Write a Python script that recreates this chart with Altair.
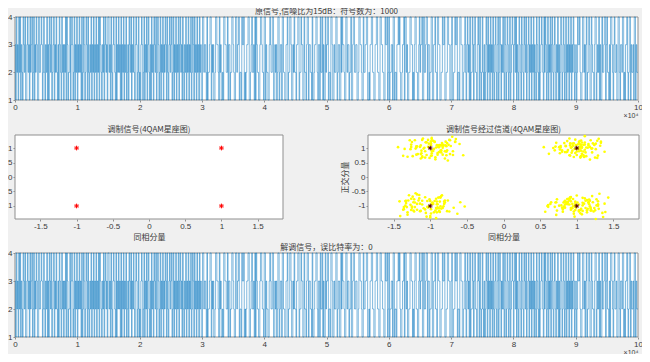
import altair as alt
import pandas as pd

# ---------------- texts ----------------
TITLE_TOP = "原信号,信噪比为15dB：符号数为：1000"
TITLE_MOD = "调制信号(4QAM星座图)"
TITLE_RX = "调制信号经过信道(4QAM星座图)"
TITLE_BOT = "解调信号，误比特率为：0"
XLABEL_IQ = "同相分量"
YLABEL_IQ = "正交分量"
X_EXP = "×10⁴"

# ---------------- data ----------------
SYMBOL_ROWS = [
    "31423142413214324113423142341241324311422343124213",
    "24131432412341324213143214231324143122413431241324",
    "13242314124312431421324132413241324143213241342314",
    "42314213432141324231413241324123143241324213431241",
    "21343124132413421314231432412431241324132431421342",
    "34124132413241342314213241324132412431423142314231",
    "14423321412234413231124433214231121443322413312244",
    "32114423341221433412123344112342231414322113443221",
    "44132211343224411323124412331442211334122443113242",
    "21334412243311422134413322141123344213314224131142",
    "33412214431132244123311424332114423312241134422331",
    "12443321142233441121334422113344221144332211433412",
    "41223314412213343421123341442311224433121344221134",
    "23341142234413312244113342214433112243341122443311",
    "34112243341221443311234213423141224313422134314212",
    "42131243142314231421342134124313242143124312412343",
    "13424132143214321432412341324132413214321412343214",
    "24312413241342134213241312431243124132413241324312",
    "31243342112442313412243114322134412324131142234413",
    "42213144321342231144213324412133421244132231441322",
]
TOTAL_SAMPLES = 100000

# constellation (symbol -> I/Q)
CONST_SYM = [1, 2, 3, 4]
CONST_I = [-1, 1, -1, 1]
CONST_Q = [1, 1, -1, -1]

# channel noise, in hundredths
NOISE_I = ("12 -25 3 18 -7 31 -14 0 22 -9 -33 5 16 -20 8 -2 27 -11 40 -18 6 -29 13 1 -5 19 -37 10 -13 24 "
           "-1 34 -22 7 -8 15 -26 2 29 -16 11 -4 21 -31 9 -12 36 -6 17 -23 4 -19 26 -3 14 -28 0 20 -10 45 "
           "-15 8 -35 23 -1 12 -21 30 -7 3 -17 18 -42 6 25 -9 11 -27 2 16 -13 38 -5 -24 9 14 -2 28 -18 5 "
           "-30 19 -11 1 33 -8 13 -20 7 -39 22 -4 10 -15 26 -26 4 -6 17 -32 12 0 21 -14 8 47 -19 3 -10 15 "
           "-23 29 -2 6 -36 18 -8 11 -13 24 -1 -28 9 32 -17 2 14 -21 5 -44 20 -6 27 -12 10 -3 16 -25 1 35 "
           "-9 7 -18 23 -30 13 -5 4 19 -15 -38 11 26 -2 8 -22 17 -7 41 -11 3 -27 14 0 -16 22 -34 6 -4 30 "
           "-20 9 12 -13 -1 25 -29 18 5 -9 15 -24 2 37 -14 10 -6 21 -40 7 -17 28 1 -11 13 -26 4 19 -3 -31 "
           "16 8 -19 24 -8 11 -35 3 31 -12 6 -22 20 -2 14 -5 -43 27 9 -16 1 18 -28 12 -10 23 -7 5 34 -21 "
           "-4 16 -33 10 29 -13 2 -18 7 22 -25 0 15 -9 39 -14 6 -30 11 -1 20 -23 8 -6 26 -17 3 13 -37 17 "
           "-3 24 -11 9 -27 1 32 -15 5 -8 19 -20 43 -12 4 14 -29 10 -2 21 -16 7 -36 28 -7 12 -19 2 17 -24 "
           "6 -10 25 -4 -32 15 9 -13 30 -21 1 11 -41 18 -6 22 -14 3 -26 8 35 -9 16 -18 0 13 -22 27 -5 4 "
           "-34 20 -11 10 -3 24 -28 7 -15 38 -8 14 -19 2 18 -31 6 -1 23 -12 9 -45 21 -7 29 -16 5 12 -24 -2 "
           "17 -10 33 -20 8 -5 19 -27 3 15 -13 26 -36 11 -4 1 22 -18 7 -9 31 -23 13 -6 16 -39 4 20 -14 10 "
           "-1 28 -25 2 -11 14 -30 24 -8 6 -17 36 -3 12 -21 9 18 -26 0 -12 25 -7 15 -33 4 21 -15 11 -2 30 -19")
NOISE_Q = ("-8 21 -15 4 30 -11 7 -24 13 -2 18 -33 9 -6 25 -17 2 -29 14 40 -10 5 -20 16 -1 27 -13 8 -36 11 "
           "-4 22 -19 3 31 -9 12 -26 6 -14 19 -3 34 -22 10 -7 -38 15 1 -16 24 -12 28 -5 9 -31 17 -2 20 -25 "
           "6 -42 13 -8 23 -15 2 32 -11 7 -21 -1 16 -28 11 26 -6 4 -18 37 -13 8 -24 1 15 -9 29 -34 12 -3 "
           "19 -16 5 -27 22 -7 10 44 -20 3 -12 17 -30 14 -4 25 -10 7 -23 0 18 -35 9 -14 28 -2 6 -19 33 -8 "
           "13 -26 2 21 -11 -40 16 4 -17 11 -5 27 -22 8 -1 35 -15 12 -30 3 19 -9 23 -18 6 -37 14 -6 10 -24 "
           "30 1 -13 17 -3 -28 20 7 -10 26 -20 9 -45 15 -7 2 22 -16 13 -32 5 -4 29 -12 18 -25 1 11 -19 39 "
           "-8 6 -14 24 -2 -33 12 8 -22 16 -10 3 31 -27 10 -5 20 -15 0 -39 17 7 -11 25 -21 4 14 -6 28 -30 "
           "9 -17 2 19 -13 41 -3 12 -24 6 -9 23 -36 15 -1 8 -20 27 -12 5 -26 11 18 -7 33 -18 3 -14 21 -4 "
           "-31 13 10 -23 1 24 -10 7 -29 16 -2 36 -15 9 -21 4 17 -8 26 -34 12 -5 2 20 -19 14 -11 30 -27 6 "
           "-3 -43 18 11 -16 23 -6 8 -25 1 15 -13 29 -9 4 -22 37 -17 10 -1 19 -32 7 25 -12 3 -20 13 -7 -28 "
           "22 5 -15 16 -4 34 -24 9 -10 27 -2 12 -35 18 -8 6 -18 21 -14 2 31 -26 11 -5 -40 15 7 -21 24 -3 "
           "17 -11 28 -29 4 -7 13 -16 38 -13 1 20 -23 8 -1 -30 26 10 -19 14 -9 3 22 -33 16 -6 5 -17 32 -14 "
           "9 -25 18 -2 11 -37 7 23 -10 1 -21 15 -4 29 -27 12 -12 6 19 -8 42 -18 2 -24 17 -3 25 -15 8 -31")

# axis limits and ticks
SIG_X_DOMAIN = [0, 100000]
SIG_Y_DOMAIN = [1, 4]
SIG_X_TICKS = [0, 10000, 20000, 30000, 40000, 50000, 60000, 70000, 80000, 90000, 100000]
SIG_Y_TICKS = [1, 2, 3, 4]
IQ_X_DOMAIN = [-1.85, 1.85]
IQ_Y_DOMAIN = [-1.45, 1.45]
IQ_X_TICKS = [-1.5, -1, -0.5, 0, 0.5, 1, 1.5]
IQ_Y_TICKS = [-1, -0.5, 0, 0.5, 1]

# ---------------- layout (pixels inside the plot group) ----------------
PAD = {"left": 7, "top": 9, "right": 3, "bottom": 17}
W, H = 624, 320
TOP_XR, TOP_YR = [0, 623], [83, 0]
MID_YR = [202, 118]
ML_XR = [0, 268]
MR_XR = [353, 624]
BOT_XR, BOT_YR = [0, 623], [320, 236]

# ---------------- build tables ----------------
symbols = [int(c) for c in "".join(SYMBOL_ROWS)]
step = TOTAL_SAMPLES / len(symbols)
sig = pd.DataFrame({
    "t": [i * step for i in range(len(symbols))] + [TOTAL_SAMPLES],
    "s": symbols + [symbols[-1]],
})

ni = [int(v) / 100 for v in NOISE_I.split()]
nq = [int(v) / 100 for v in NOISE_Q.split()]
n = min(len(ni), len(nq), len(symbols))
imap = dict(zip(CONST_SYM, CONST_I))
qmap = dict(zip(CONST_SYM, CONST_Q))
rx = pd.DataFrame({
    "i": [imap[symbols[k]] + ni[k] for k in range(n)],
    "q": [qmap[symbols[k]] + nq[k] for k in range(n)],
})
const = pd.DataFrame({"i": CONST_I, "q": CONST_Q})

FRAME = "#8f8f8f"
TXT = "#3a3a3a"
CJK = "Noto Sans CJK SC"
STAR = "M-1,0L1,0M0,-1L0,1M-0.7,-0.7L0.7,0.7M-0.7,0.7L0.7,-0.7"


def sc(domain, rng):
    return alt.Scale(domain=domain, range=rng, zero=False, nice=False)


def frame(xd, yd, xr, yr):
    df = pd.DataFrame({"x": [xd[0]], "x2": [xd[1]], "y": [yd[0]], "y2": [yd[1]]})
    return alt.Chart(df).mark_rect(fill="white", stroke=FRAME, strokeWidth=1).encode(
        x=alt.X("x:Q", scale=sc(xd, xr), axis=None),
        x2="x2:Q",
        y=alt.Y("y:Q", scale=sc(yd, yr), axis=None),
        y2="y2:Q",
    )


def title(text, xd, yd, xr, yr):
    df = pd.DataFrame({"x": [(xd[0] + xd[1]) / 2], "y": [yd[1]], "label": [text]})
    return alt.Chart(df).mark_text(font=CJK, fontSize=8, color=TXT, baseline="bottom", dy=-1).encode(
        x=alt.X("x:Q", scale=sc(xd, xr), axis=None),
        y=alt.Y("y:Q", scale=sc(yd, yr), axis=None),
        text="label:N",
    )


def sig_line(xr, yr, xoff):
    return alt.Chart(sig).mark_line(interpolate="step-after", color="#0072BD", strokeWidth=0.5).encode(
        x=alt.X("t:Q", scale=sc(SIG_X_DOMAIN, xr),
                axis=alt.Axis(orient="bottom", offset=xoff, values=SIG_X_TICKS,
                              labelExpr="'' + (datum.value / 10000)",
                              title=X_EXP, titleAnchor="end", titleFontSize=7,
                              titleFontWeight="normal", titlePadding=0)),
        y=alt.Y("s:Q", scale=sc(SIG_Y_DOMAIN, yr),
                axis=alt.Axis(orient="left", values=SIG_Y_TICKS, title=None)),
    )


def iq_points(df, xr, yr, xoff, yoff, ytitle, mark):
    yaxis = alt.Axis(orient="left", offset=yoff, values=IQ_Y_TICKS,
                     labelExpr="'' + datum.value", title=ytitle,
                     titleFont=CJK, titleFontSize=8, titleFontWeight="normal", titlePadding=2)
    return alt.Chart(df).mark_point(**mark).encode(
        x=alt.X("i:Q", scale=sc(IQ_X_DOMAIN, xr),
                axis=alt.Axis(orient="bottom", offset=xoff, values=IQ_X_TICKS,
                              labelExpr="'' + datum.value", title=XLABEL_IQ,
                              titleFont=CJK, titleFontSize=8, titleFontWeight="normal",
                              titlePadding=3)),
        y=alt.Y("q:Q", scale=sc(IQ_Y_DOMAIN, yr), axis=yaxis),
    )


def iq_plain(df, xr, yr, mark):
    return alt.Chart(df).mark_point(**mark).encode(
        x=alt.X("i:Q", scale=sc(IQ_X_DOMAIN, xr), axis=None),
        y=alt.Y("q:Q", scale=sc(IQ_Y_DOMAIN, yr), axis=None),
    )


star_red = dict(shape=STAR, size=22, filled=False, stroke="#ff0000", strokeWidth=1, opacity=1)
star_dark = dict(shape=STAR, size=20, filled=False, stroke="#5a0000", strokeWidth=1, opacity=1)
yellow = dict(shape="circle", size=7, filled=True, fill="#ffff00", stroke=None, opacity=1)

layers = [
    frame(SIG_X_DOMAIN, SIG_Y_DOMAIN, TOP_XR, TOP_YR),
    sig_line(TOP_XR, TOP_YR, TOP_YR[0] - H),
    title(TITLE_TOP, SIG_X_DOMAIN, SIG_Y_DOMAIN, TOP_XR, TOP_YR),

    frame(IQ_X_DOMAIN, IQ_Y_DOMAIN, ML_XR, MID_YR),
    iq_points(const, ML_XR, MID_YR, MID_YR[0] - H, 0, None, star_red),
    title(TITLE_MOD, IQ_X_DOMAIN, IQ_Y_DOMAIN, ML_XR, MID_YR),

    frame(IQ_X_DOMAIN, IQ_Y_DOMAIN, MR_XR, MID_YR),
    iq_points(rx, MR_XR, MID_YR, MID_YR[0] - H, -MR_XR[0], YLABEL_IQ, yellow),
    iq_plain(const, MR_XR, MID_YR, star_dark),
    title(TITLE_RX, IQ_X_DOMAIN, IQ_Y_DOMAIN, MR_XR, MID_YR),

    frame(SIG_X_DOMAIN, SIG_Y_DOMAIN, BOT_XR, BOT_YR),
    sig_line(BOT_XR, BOT_YR, 0),
    title(TITLE_BOT, SIG_X_DOMAIN, SIG_Y_DOMAIN, BOT_XR, BOT_YR),
]

chart = (
    alt.layer(*layers)
    .resolve_scale(x="independent", y="independent")
    .resolve_axis(x="independent", y="independent")
    .properties(width=W, height=H, autosize=alt.AutoSizeParams(type="none"), padding=PAD)
    .configure(background="#f0f0f0")
    .configure_view(strokeWidth=0)
    .configure_axis(domain=False, grid=False, tickSize=2, tickColor=FRAME,
                    labelFont="Liberation Sans", labelFontSize=8, labelColor=TXT,
                    labelPadding=1, labelFlush=False, labelOverlap=False,
                    titleColor=TXT, titleFont="Liberation Sans")
)

chart.save("out.html", embed_options={"renderer": "svg", "actions": False})
